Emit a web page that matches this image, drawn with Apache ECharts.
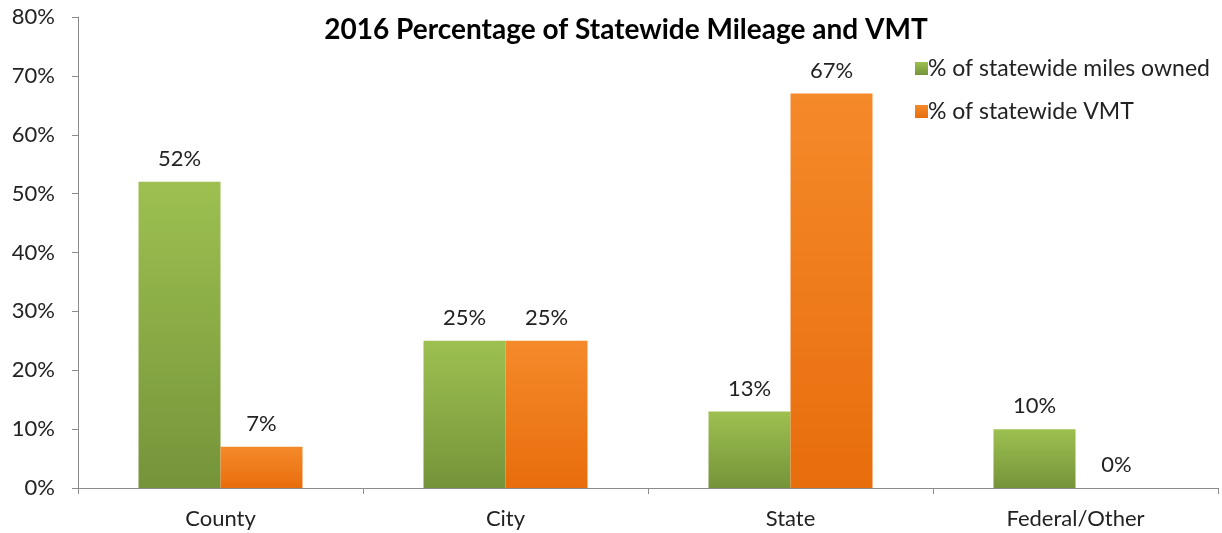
<!DOCTYPE html>
<html>
<head>
<meta charset="utf-8">
<script src="https://cdn.jsdelivr.net/npm/echarts@6/dist/echarts.min.js"></script>
<style>
  html, body { margin: 0; padding: 0; background: #fff; }
  #myChart { width: 1222px; height: 533px; }
</style>
</head>
<body>
<div id="myChart"></div>
<script>
  var categories = ['County', 'City', 'State', 'Federal/Other'];
  var milesOwned = [52, 25, 13, 10];
  var vmt = [7, 25, 67, 0];
  var seriesNames = ['% of statewide miles owned', '% of statewide VMT'];

  var font = 'Lato, "Open Sans", sans-serif';

  function grad(top, bottom) {
    return new echarts.graphic.LinearGradient(0, 0, 0, 1, [
      { offset: 0, color: top },
      { offset: 1, color: bottom }
    ]);
  }

  var myChart = echarts.init(document.getElementById('myChart'));
  myChart.setOption({
    animation: false,
    title: {
      text: '2016 Percentage of Statewide Mileage and VMT',
      left: 621,
      textAlign: 'center',
      top: 11,
      textStyle: { fontFamily: font, fontSize: 28, fontWeight: 'bold', color: '#000' }
    },
    legend: {
      orient: 'vertical',
      left: 910,
      top: 52,
      itemGap: 20,
      itemWidth: 13,
      itemHeight: 13,
      icon: 'rect',
      textStyle: { fontFamily: font, fontSize: 23, color: '#222', padding: [0, 0, 0, -5] },
      data: seriesNames
    },
    grid: { left: 78, right: 4, top: 17, bottom: 45 },
    xAxis: {
      type: 'category',
      data: categories,
      axisLine: { lineStyle: { color: '#8c8c8c' } },
      axisTick: { show: true, length: 6, lineStyle: { color: '#8c8c8c' } },
      axisLabel: { fontFamily: font, fontSize: 22, color: '#222', margin: 20 }
    },
    yAxis: {
      type: 'value',
      min: 0,
      max: 80,
      interval: 10,
      axisLine: { show: true, lineStyle: { color: '#8c8c8c' } },
      axisTick: { show: true, length: 6, lineStyle: { color: '#8c8c8c' } },
      splitLine: { show: false },
      axisLabel: { fontFamily: font, fontSize: 22, color: '#222', margin: 23, formatter: '{value}%' }
    },
    series: [
      {
        name: seriesNames[0],
        type: 'bar',
        barWidth: 82,
        barGap: '0%',
        data: milesOwned,
        itemStyle: { color: grad('#9dc050', '#75943a') },
        label: { show: true, position: 'top', distance: 12, formatter: '{c}%', fontFamily: font, fontSize: 22, color: '#222' }
      },
      {
        name: seriesNames[1],
        type: 'bar',
        barWidth: 82,
        data: vmt,
        itemStyle: { color: grad('#f58a2a', '#e86d0c') },
        label: { show: true, position: 'top', distance: 12, formatter: '{c}%', fontFamily: font, fontSize: 22, color: '#222' }
      }
    ]
  });
</script>
</body>
</html>
